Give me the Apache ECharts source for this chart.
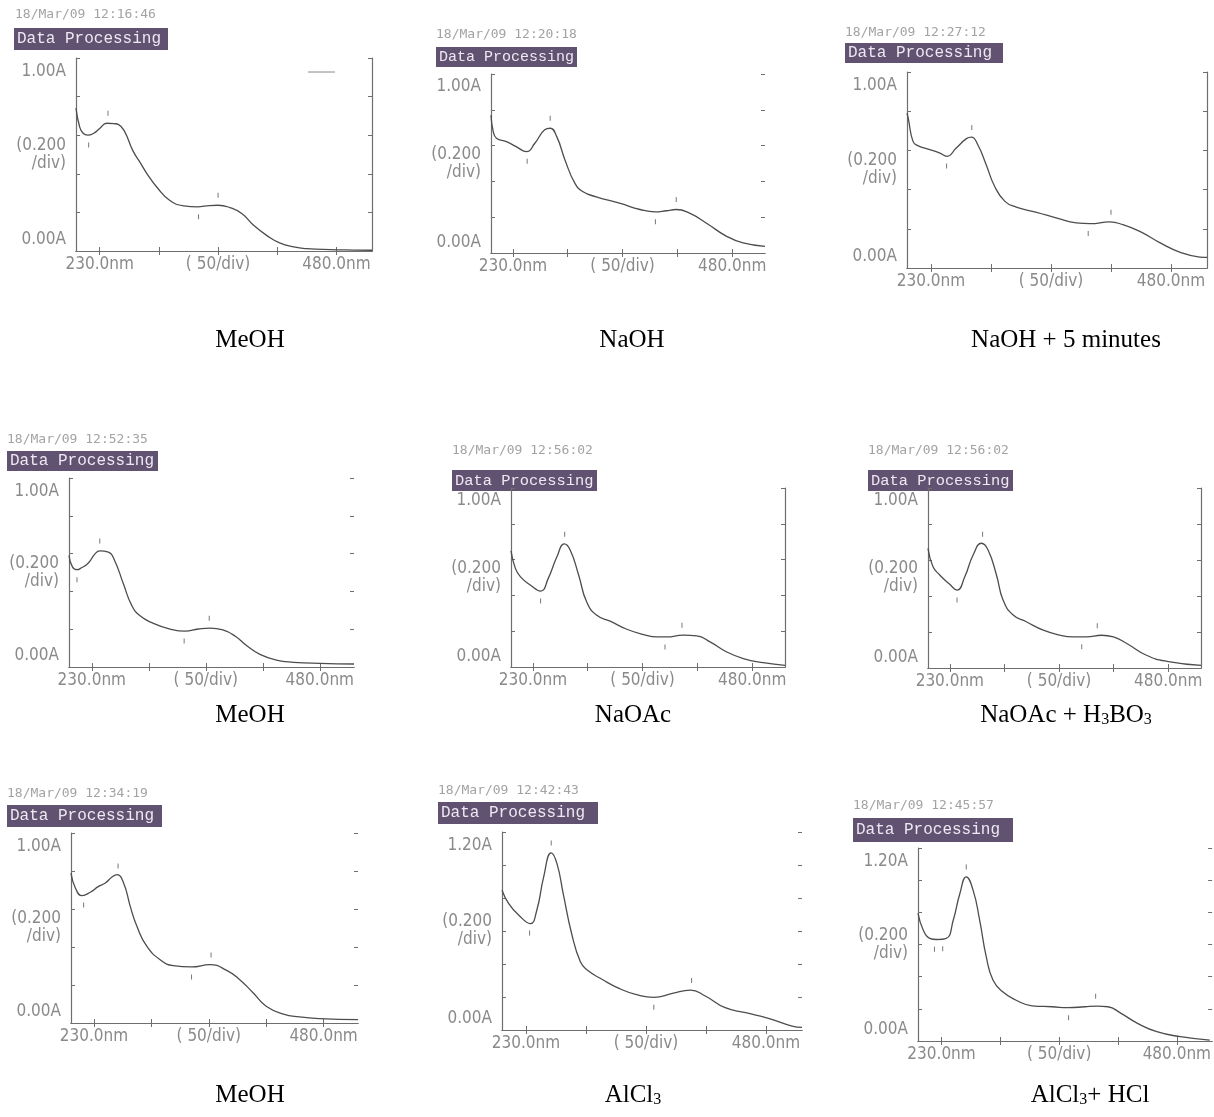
<!DOCTYPE html>
<html><head><meta charset="utf-8">
<script src="https://cdn.jsdelivr.net/npm/echarts@6.0.0/dist/echarts.min.js"></script>
<style>html,body{margin:0;padding:0;background:#fff}#c{width:1214px;height:1117px}</style>
</head><body><div id="c"></div>
<script>
// ---------- DATA ----------
const captions = ['MeOH', 'NaOH', 'NaOH + 5 minutes', 'MeOH', 'NaOAc', 'NaOAc + H3BO3', 'MeOH', 'AlCl3', 'AlCl3+ HCl'];
const timestamps = ['18/Mar/09 12:16:46', '18/Mar/09 12:20:18', '18/Mar/09 12:27:12',
  '18/Mar/09 12:52:35', '18/Mar/09 12:56:02', '18/Mar/09 12:56:02',
  '18/Mar/09 12:34:19', '18/Mar/09 12:42:43', '18/Mar/09 12:45:57'];
const yTop = [1.0, 1.0, 1.0, 1.0, 1.0, 1.0, 1.0, 1.2, 1.2];
const xRange = [230, 480];
const xTicks = [250, 300, 350, 400, 450];
const xLabelAt = [250, 350, 450];
const xLabels = ['230.0nm', '( 50/div)', '480.0nm'];
const yMidLabel = '(0.200\n/div)';
const yStep = 0.2;

const wl1 = [230,233,236,240,245,250,256,262,266,271,278,285,290,298,309,321,333,340,350,360,370,380,391,402,414,425,445,465,480];
const ab1 = [0.74,0.645,0.61,0.60,0.61,0.635,0.662,0.66,0.655,0.62,0.52,0.45,0.40,0.333,0.263,0.234,0.229,0.234,0.237,0.225,0.194,0.133,0.081,0.042,0.021,0.012,0.007,0.005,0.004];
const wl2 = [230,232,235,244,253,262.5,270,279,284,290,297.5,306.6,314,326,348,366,379.6,390,399,411.6,427,445,460,480];
const ab2 = [0.77,0.68,0.641,0.622,0.594,0.566,0.613,0.688,0.697,0.65,0.52,0.389,0.342,0.314,0.277,0.243,0.230,0.236,0.243,0.221,0.165,0.093,0.056,0.037];
const wl3 = [230,231,235,239,249,257,263.4,271,279.5,283.7,289,296,303,311.6,321,338,355,371,382.6,399,410,424,441,457.7,474,480];
const ab3 = [0.79,0.765,0.646,0.624,0.604,0.587,0.570,0.612,0.66,0.668,0.629,0.527,0.417,0.34,0.311,0.284,0.255,0.23,0.226,0.235,0.221,0.187,0.128,0.080,0.056,0.054];
const wl4 = [230,233,237,241,247,253,257,264.5,270,277.7,285,292,304,318.6,331.8,343.5,353.7,365,375.6,386,397.5,412,427,450,480];
const ab4 = [0.59,0.53,0.515,0.525,0.55,0.60,0.614,0.608,0.564,0.44,0.326,0.272,0.231,0.201,0.19,0.201,0.206,0.196,0.164,0.112,0.067,0.036,0.025,0.019,0.016];
const wl5 = [230,234,238.5,247.6,257,264,272,278.6,284,291.7,299,308,320.5,335.7,351,363,372,387,399.5,411.6,426.8,442,460,480];
const ab5 = [0.649,0.551,0.505,0.458,0.424,0.495,0.617,0.688,0.654,0.514,0.364,0.29,0.256,0.211,0.181,0.168,0.168,0.178,0.174,0.14,0.084,0.047,0.024,0.009];
const wl6 = [230,234.6,240.7,249.9,256.6,263.7,271.3,279,285,292.7,298.8,308,320,335.6,350.9,363,375,389,399.8,412,430,448.8,480];
const ab6 = [0.665,0.563,0.517,0.465,0.433,0.507,0.628,0.693,0.656,0.517,0.377,0.294,0.257,0.21,0.182,0.173,0.173,0.182,0.173,0.136,0.071,0.037,0.015];
const wl7 = [230,233.8,239.6,246.8,254,259.9,265.7,270,275.8,281.6,287.4,296,307.7,319,335,351,365.6,377,388.8,400,415,429,446.8,480];
const ab7 = [0.789,0.711,0.67,0.688,0.719,0.737,0.768,0.781,0.737,0.614,0.509,0.404,0.333,0.302,0.295,0.307,0.277,0.228,0.158,0.088,0.047,0.032,0.023,0.018];
const wl8 = [230,235.6,244,253.6,259,264.7,271,275.8,281,288,295.3,301,313.6,327.5,341.4,356.7,372,387,399.4,416,433,452,471.7,480];
const ab8 = [0.847,0.766,0.696,0.645,0.726,0.927,1.073,1.008,0.827,0.585,0.413,0.363,0.306,0.252,0.216,0.198,0.222,0.242,0.206,0.135,0.105,0.071,0.024,0.016];
const wl9 = [230,234.5,240,245.8,254,260,265.6,271,276.8,282.4,288,293.7,302,313,327,344,357.8,371.8,381.6,391.4,402.6,416.6,433,453,478];
const ab9 = [0.793,0.689,0.638,0.631,0.638,0.752,0.917,1.02,0.938,0.752,0.524,0.379,0.306,0.255,0.219,0.213,0.207,0.213,0.217,0.213,0.172,0.11,0.058,0.027,0.006];

// peak-pick markers (nm)
const peaks = [[257,350],[284,399],[284,400],[257,353],[279,386],[280,385],[271,352],[271,388],[271,381]];
const valleys = [[240.7,333.5],[263,380],[263,381],[237,331],[257,370.5],[256.6,370.8],[241,335],[253,356.5],[244,251,358]];

const wls = [wl1,wl2,wl3,wl4,wl5,wl6,wl7,wl8,wl9];
const abs = [ab1,ab2,ab3,ab4,ab5,ab6,ab7,ab8,ab9];

// ---------- LAYOUT ----------
const rects = [
  [76,58,296,193],[491,74,274,179],[907,72,300,196],
  [69,478,285,189],[511,488,274,179],[928,488,273,180],
  [71,833,287,190],[502,832,300,198],[918,848,297,193]
];
const rightLine = [true,false,true,false,true,true,false,false,false];
const stampPos = [[15,15],[436,35],[845,33],[7,440],[452,451],[868,451],[7,794],[438,791],[853,806]];
const dpBox = [[14,28,154,22],[436,47,141,20],[845,43,158,20],[7,451,151,20],[452,470,145,21],[868,470,145,21],[7,805,155,22],[438,802,160,22],[853,818,160,24]];
const capPos = [[250,338],[632,338],[1066,338],[250,713],[633,713],[1066,713],[250,1093],[633,1093],[1090,1093]];

const LINE = '#4d4d4d', AX = '#6e6e6e', LAB = '#8a8a8a';
const narrow = "'Liberation Sans Narrow','DejaVu Sans Condensed','Liberation Sans',sans-serif";

function interp(w, a, x) {
  for (let i = 1; i < w.length; i++) {
    if (x <= w[i]) { const t = (x - w[i-1]) / (w[i] - w[i-1]); return a[i-1] + t * (a[i] - a[i-1]); }
  }
  return a[a.length - 1];
}

const grid = [], xAxis = [], yAxis = [], series = [], graphic = [];
rects.forEach((r, i) => {
  grid.push({left: r[0], top: r[1], width: r[2], height: r[3], containLabel: false});
  const axLine = {show: true, lineStyle: {color: AX, width: 1.2}};
  const tick = {show: true, inside: true, length: 4, lineStyle: {color: AX, width: 1}};
  xAxis.push({type: 'value', gridIndex: i, position: 'bottom', min: xRange[0], max: xRange[1],
    axisLine: axLine, splitLine: {show: false},
    axisTick: Object.assign({}, tick, {customValues: xTicks}),
    axisLabel: {show: true, customValues: xLabelAt, color: LAB, fontSize: 17, fontFamily: narrow, margin: 5,
      formatter: v => xLabels[xLabelAt.indexOf(v)] }});
  xAxis.push({type: 'value', gridIndex: i, position: 'top', min: xRange[0], max: xRange[1],
    axisLine: axLine, splitLine: {show: false},
    axisTick: Object.assign({}, tick, {customValues: xTicks}), axisLabel: {show: false}});
  const top = yTop[i];
  const yLabAt = [0.06 * top, 0.5 * top, 0.93 * top];
  const yLabs = ['0.00A', yMidLabel, top.toFixed(2) + 'A'];
  yAxis.push({type: 'value', gridIndex: i, position: 'left', min: 0, max: top, interval: yStep,
    axisLine: axLine, splitLine: {show: false}, axisTick: tick,
    axisLabel: {show: true, customValues: yLabAt, color: LAB, fontSize: 17, fontFamily: narrow, margin: 10,
      lineHeight: 18, align: 'right',
      formatter: v => { let k = 0, d = 1e9; yLabAt.forEach((p, j) => { if (Math.abs(p - v) < d) { d = Math.abs(p - v); k = j; } }); return yLabs[k]; } }});
  yAxis.push({type: 'value', gridIndex: i, position: 'right', min: 0, max: top, interval: yStep,
    axisLine: {show: rightLine[i], lineStyle: {color: AX, width: 1.2}}, splitLine: {show: false},
    axisTick: tick, axisLabel: {show: false}});
  const w = wls[i], a = abs[i];
  const mp = [];
  peaks[i].forEach(p => mp.push({coord: [p, interp(w, a, p)], symbolOffset: [0, -10]}));
  valleys[i].forEach(p => mp.push({coord: [p, interp(w, a, p)], symbolOffset: [0, 10]}));
  series.push({type: 'line', xAxisIndex: 2 * i, yAxisIndex: 2 * i, showSymbol: false, smooth: 0.5,
    data: w.map((x, k) => [x, a[k]]), lineStyle: {color: LINE, width: 1.3}, silent: true,
    markPoint: {symbol: 'rect', symbolSize: [1, 5], itemStyle: {color: '#777'}, label: {show: false}, silent: true, data: mp}});

  // header texts
  graphic.push({type: 'text', left: stampPos[i][0], top: stampPos[i][1] - 7, silent: true,
    style: {text: timestamps[i], font: "13px 'DejaVu Sans Mono', monospace", fill: '#a3a3a3'}});
  const b = dpBox[i];
  const fs = Math.min(16, (b[2] - 6) / 15 / 0.6);
  graphic.push({type: 'rect', shape: {x: b[0], y: b[1], width: b[2], height: b[3]}, silent: true, style: {fill: '#625272'}});
  graphic.push({type: 'text', left: b[0] + 3, top: b[1] + b[3] / 2 - 9, silent: true,
    style: {text: 'Data Processing', font: fs.toFixed(1) + "px 'Liberation Mono', monospace", fill: '#eee8f2', lineHeight: 18}});
  // caption
  const c = captions[i];
  let txt = '{a|' + c + '}';
  const rich = {a: {font: "25px 'Liberation Serif', 'Times New Roman', serif", fill: '#000', lineHeight: 30, verticalAlign: 'bottom'},
    s: {font: "16px 'Liberation Serif', 'Times New Roman', serif", fill: '#000', lineHeight: 22, verticalAlign: 'bottom'}};
  if (c === 'NaOAc + H3BO3') txt = '{a|NaOAc + H}{s|3}{a|BO}{s|3}';
  if (c === 'AlCl3') txt = '{a|AlCl}{s|3}';
  if (c === 'AlCl3+ HCl') txt = '{a|AlCl}{s|3}{a|+ HCl}';
  graphic.push({type: 'text', x: capPos[i][0], y: capPos[i][1], silent: true,
    style: {text: txt, rich: rich, align: 'center', verticalAlign: 'middle'}});
});
// small legend dash in first panel
graphic.push({type: 'line', silent: true, shape: {x1: 308, y1: 72, x2: 335, y2: 72}, style: {stroke: '#888', lineWidth: 1}});

const chart = echarts.init(document.getElementById('c'), null, {renderer: 'canvas'});
chart.setOption({animation: false, backgroundColor: '#fff', grid, xAxis, yAxis, series, graphic});
</script></body></html>
